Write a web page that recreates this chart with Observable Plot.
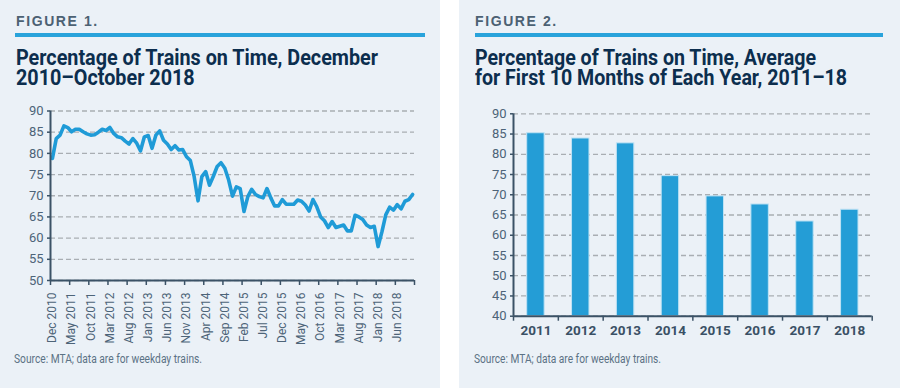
<!DOCTYPE html>
<html><head><meta charset="utf-8">
<script src="https://cdn.jsdelivr.net/npm/d3@7"></script>
<script src="https://cdn.jsdelivr.net/npm/@observablehq/plot@0.6"></script>
<style>
html,body{margin:0;padding:0;background:#fff;}
body{width:900px;height:391px;position:relative;overflow:hidden;font-family:Roboto,"Liberation Sans",sans-serif;}
.panel{position:absolute;top:0;height:388px;background:#ebf1f7;}
.fig{position:absolute;top:14px;font:bold 14px/14px "Liberation Sans",Arial,sans-serif;letter-spacing:1.6px;color:#4c6173;white-space:nowrap;}
.rule{position:absolute;top:33px;height:4px;background:#29a3db;}
.title{position:absolute;top:47.5px;font-family:Roboto,"Liberation Sans",sans-serif;font-weight:bold;font-size:22px;line-height:20px;color:#0c2e4e;white-space:nowrap;transform-origin:0 0;}
.src{position:absolute;top:353px;font-size:12px;line-height:12px;color:#5b7285;white-space:nowrap;transform-origin:0 0;}
.chart{position:absolute;left:0;}
</style></head>
<body>
<div class="panel" id="p1" style="left:0;width:440px;">
  <div class="fig" style="left:16px;">FIGURE 1.</div>
  <div class="rule" style="left:15px;width:410px;"></div>
  <div class="title" style="left:16px;" data-w="362">Percentage of Trains on Time, December<br>2010–October 2018</div>
  <div class="chart" id="c1" style="top:95px;"></div>
  <div class="src" style="left:14px;" data-w="188">Source: MTA; data are for weekday trains.</div>
</div>
<div class="panel" id="p2" style="left:459px;width:441px;">
  <div class="fig" style="left:16px;">FIGURE 2.</div>
  <div class="rule" style="left:16px;width:408px;"></div>
  <div class="title" style="left:16px;" data-w="372">Percentage of Trains on Time, Average<br>for First 10 Months of Each Year, 2011–18</div>
  <div class="chart" id="c2" style="top:100px;"></div>
  <div class="src" style="left:15px;" data-w="187">Source: MTA; data are for weekday trains.</div>
</div>
<script>
// ---- data ----
const monthLabels = ["Dec 2010","May 2011","Oct 2011","Mar 2012","Aug 2012","Jan 2013","Jun 2013","Nov 2013","Apr 2014","Sep 2014","Feb 2015","Jul 2015","Dec 2015","May 2016","Oct 2016","Mar 2017","Aug 2017","Jan 2018","Jun 2018"];
const onTime = [
  78.8,83.5,84.3,86.5,86.1,85.1,85.7,85.7,85.1,84.6,
  84.3,84.4,85.0,85.7,85.4,86.1,84.7,83.9,83.7,82.9,
  82.2,83.5,82.4,80.6,83.9,84.2,81.2,84.3,85.3,83.1,
  82.2,80.9,81.8,80.8,80.9,79.2,78.3,74.5,68.8,74.5,
  75.7,72.5,74.6,76.9,77.8,76.5,73.7,69.9,72.1,71.7,
  66.3,69.8,71.5,70.3,69.8,69.5,71.7,69.5,67.6,67.6,
  69.1,68.0,68.0,68.0,69.0,68.7,67.8,66.4,69.1,67.4,
  65.0,64.1,62.5,63.9,62.5,62.8,63.1,61.7,61.7,65.4,
  65.0,64.4,63.1,62.5,62.8,58.0,61.5,65.5,67.3,66.6,
  67.9,66.9,68.7,69.1,70.3
];
const yTicks1 = [50,55,60,65,70,75,80,85,90];
const years = [2011,2012,2013,2014,2015,2016,2017,2018];
const yearAvg = [85.2,83.9,82.7,74.6,69.6,67.6,63.4,66.3];
const yTicks2 = [40,45,50,55,60,65,70,75,80,85,90];

// ---- styles ----
const FONT = "Roboto,'Liberation Sans',sans-serif";
const axisColor = "#3b5266";
const textColor = "#4d6478";
const gridColor = "#a9aeb3";
const lineColor = "#1f9bd7";

// fit condensed-looking text widths
document.querySelectorAll("[data-w]").forEach(el => {
  const w = el.getBoundingClientRect().width;
  el.style.transform = `scaleX(${(+el.dataset.w / w).toFixed(4)})`;
});

// ---- chart 1 ----
const nMonths = onTime.length;                 // 95
const lineData = onTime.map((v, i) => ({pos: i + 0.5, v}));
const step = 5;
const bounds1 = d3.range(0, nMonths + 1, step);
const labelPos1 = monthLabels.map((_, i) => i * step + 0.5);

const chart1 = Plot.plot({
  width: 440, height: 245,
  marginTop: 15.5, marginBottom: 60, marginLeft: 50, marginRight: 26,
  style: {background: "transparent", fontFamily: FONT, fontSize: "13px", color: textColor, overflow: "visible"},
  x: {domain: [0, nMonths], label: null},
  y: {domain: [yTicks1[0], yTicks1[yTicks1.length - 1]], label: null},
  marks: [
    Plot.gridY(yTicks1, {stroke: gridColor, strokeOpacity: 1, strokeWidth: 1.3, strokeDasharray: "5,3"}),
    Plot.line(lineData, {x: "pos", y: "v", stroke: lineColor, strokeWidth: 3.6, strokeLinejoin: "round", strokeLinecap: "round"}),
    Plot.axisY(yTicks1, {tickSize: 3, tickPadding: 4, stroke: axisColor, strokeWidth: 1.5, fill: textColor, fontSize: 13}),
    Plot.axisX(bounds1, {tickSize: 5, tickFormat: () => "", stroke: axisColor, strokeWidth: 1.5}),
    Plot.axisX(labelPos1, {tickSize: 0, tickPadding: 12, tickRotate: -90, tickFormat: d => monthLabels[Math.round((d - 0.5) / step)], fill: textColor, fontSize: 12}),
    Plot.ruleX([0], {stroke: axisColor, strokeWidth: 2}),
    Plot.ruleY([yTicks1[0]], {stroke: axisColor, strokeWidth: 2})
  ]
});
document.getElementById("c1").appendChild(chart1);

// ---- chart 2 ----
const barData = years.map((y, i) => ({year: y, value: yearAvg[i]}));
const bounds2 = [...years, years[years.length - 1] + 1];
const chart2 = Plot.plot({
  width: 441, height: 250,
  marginTop: 13.3, marginBottom: 34.3, marginLeft: 54, marginRight: 28.3,
  style: {background: "transparent", fontFamily: FONT, fontSize: "13px", color: textColor, overflow: "visible"},
  x: {domain: [bounds2[0], bounds2[bounds2.length - 1]], label: null},
  y: {domain: [yTicks2[0], yTicks2[yTicks2.length - 1]], label: null},
  marks: [
    Plot.gridY(yTicks2, {stroke: gridColor, strokeOpacity: 1, strokeWidth: 1.3, strokeDasharray: "5,3"}),
    Plot.rectY(barData, {x1: "year", x2: d => d.year + 1, y1: yTicks2[0], y2: "value", insetLeft: 13.7, insetRight: 13.7, fill: "#249dd6", stroke: "#bfe2f4", strokeWidth: 1}),
    Plot.axisY(yTicks2, {tickSize: 3, tickPadding: 4, stroke: axisColor, strokeWidth: 1.5, fill: textColor, fontSize: 13}),
    Plot.axisX(bounds2, {tickSize: 5, tickFormat: () => "", stroke: axisColor, strokeWidth: 1.5}),
    Plot.axisX(years.map(y => y + 0.5), {tickSize: 0, tickPadding: 9, tickFormat: d => String(Math.floor(d)), fill: "#3a5065", fontSize: 13.5, fontWeight: "bold"}),
    Plot.ruleX([bounds2[0]], {stroke: axisColor, strokeWidth: 2}),
    Plot.ruleY([yTicks2[0]], {stroke: axisColor, strokeWidth: 2})
  ]
});
document.getElementById("c2").appendChild(chart2);
</script>
</body></html>
